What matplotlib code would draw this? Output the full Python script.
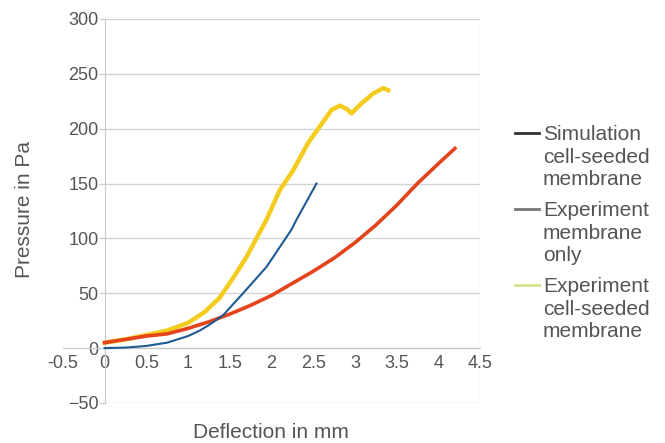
import matplotlib.pyplot as plt
from matplotlib.lines import Line2D

plt.rcParams['font.family'] = ['Liberation Sans', 'DejaVu Sans']

# Simulation, cell-seeded membrane
sim_x = [0, 0.25, 0.5, 0.75, 1.0, 1.14, 1.25, 1.42, 1.66, 1.94, 2.02, 2.24, 2.3, 2.54]
sim_y = [0, 0.5, 2, 5, 11, 16, 21, 30, 50, 74, 83, 108, 117, 150]

# Experiment, membrane only
mem_x = [0, 0.25, 0.5, 0.75, 1.0, 1.25, 1.5, 1.75, 2.0, 2.25, 2.5, 2.75, 3.0, 3.25, 3.5, 3.75, 4.0, 4.2]
mem_y = [5, 8, 11, 13, 18, 24, 31, 39, 48, 59, 70, 82, 96, 112, 130, 150, 168, 182]

# Experiment, cell-seeded membrane
cell_x = [0, 0.25, 0.5, 0.75, 1.0, 1.2, 1.38, 1.55, 1.7, 1.94, 2.1, 2.26, 2.44, 2.58,
          2.72, 2.82, 2.9, 2.96, 3.08, 3.22, 3.34, 3.4]
cell_y = [5, 8, 12, 16, 23, 33, 46, 65, 83, 117, 144, 162, 187, 202,
          217, 221, 218, 214, 223, 232, 237, 235]

x_ticks = [-0.5, 0, 0.5, 1, 1.5, 2, 2.5, 3, 3.5, 4, 4.5]
x_labels = ['-0.5', '0', '0.5', '1', '1.5', '2', '2.5', '3', '3.5', '4', '4.5']
y_ticks = [-50, 0, 50, 100, 150, 200, 250, 300]

labels = ['Simulation\ncell-seeded\nmembrane', 'Experiment\nmembrane\nonly',
          'Experiment\ncell-seeded\nmembrane']
legend_colors = ['#333333', '#777777', '#d8e08a']

W, H = 665, 443
fig = plt.figure(figsize=(W / 100, H / 100), dpi=100)
ax = fig.add_axes([0.0947, 0.0903, 0.627, 0.867])

grid_c = '#d4d4d4'
ax.hlines(y_ticks, 0, 4.5, color=grid_c, lw=1.0, zorder=0)
ax.axvline(4.5, color='#e6e6e6', lw=1.0, zorder=0)

ax.plot(cell_x, cell_y, color='#f4cc1e', lw=3.2, zorder=2)
ax.plot(mem_x, mem_y, color='#e5431c', lw=2.6, zorder=3)
ax.plot(sim_x, sim_y, color='#1f5a94', lw=1.5, zorder=4)

ax.set_xlim(-0.5, 4.5)
ax.set_ylim(-50, 300)
ax.set_xticks(x_ticks)
ax.set_xticklabels(x_labels)
ax.set_yticks(y_ticks)

for s in ['top', 'right']:
    ax.spines[s].set_visible(False)
ax.spines['left'].set_position(('data', 0))
ax.spines['bottom'].set_position(('data', 0))
ax.spines['left'].set_color('#c8c8c8')
ax.spines['bottom'].set_color('#c8c8c8')

ax.tick_params(axis='y', direction='out', length=4, color='#c8c8c8',
               labelsize=13, labelcolor='#555555', pad=0.5)
ax.tick_params(axis='x', length=0, labelsize=13, labelcolor='#555555', pad=5)

fig.text(25 / W, 1 - 210 / H, 'Pressure in Pa', rotation=90, ha='center',
         va='center', fontsize=15, color='#555555')
fig.text(271 / W, 1 - 432 / H, 'Deflection in mm', ha='center',
         va='center', fontsize=15, color='#555555')

# legend: marker sits beside the first line of each label, as in the original
for i, (lab, c) in enumerate(zip(labels, legend_colors)):
    y0 = 133 + i * 76
    fig.add_artist(Line2D([515 / W, 539 / W], [1 - y0 / H, 1 - y0 / H],
                          color=c, lw=2, transform=fig.transFigure))
    fig.text(543 / W, 1 - (y0 - 8) / H, lab, ha='left', va='top',
             fontsize=15, color='#555555', linespacing=1.24)

fig.savefig('out.png', dpi=100)
